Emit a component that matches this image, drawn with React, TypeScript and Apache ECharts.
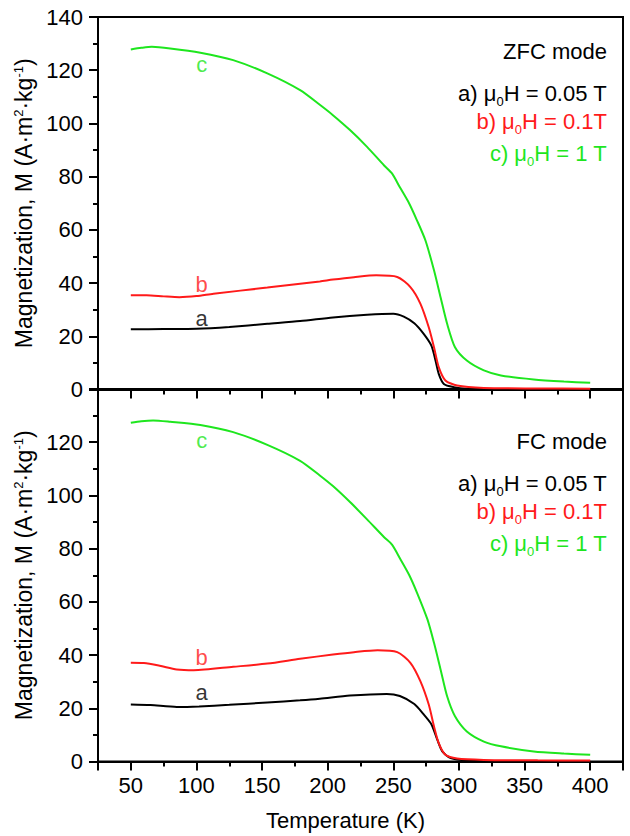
import React, { useEffect, useRef } from "react";
import * as echarts from "echarts";

// ---- Data (Temperature K, Magnetization A·m²·kg⁻¹) ----
const ZFC_A: number[][] = [
  [50, 22.6], [75, 22.7], [100, 22.8], [125, 23.5], [154, 24.7], [179, 25.7], [204, 27.1], [230, 28.1],
  [250, 28.5], [258, 27.4], [266, 24.9], [273, 21.0], [279, 16.5], [282, 11.2], [284.6, 5.9],
  [288.5, 2.1], [296, 0.9], [306, 0.3], [330, 0.15], [400, 0.1],
];
const ZFC_B: number[][] = [
  [50, 35.4], [62, 35.4], [75, 35.0], [87, 34.7], [100, 35.1], [113, 36.0], [154, 38.3], [194, 40.6],
  [204, 41.3], [220, 42.2], [237, 42.9], [253, 42.3], [263, 38.5], [270.6, 32.3], [277, 23.4],
  [281, 15.9], [284.6, 8.4], [289.7, 3.4], [298.6, 1.5], [319, 0.6], [360, 0.4], [400, 0.3],
];
const ZFC_C: number[][] = [
  [50, 127.8], [58, 128.4], [66, 128.8], [80, 128.2], [103, 126.6], [128, 123.8], [154, 118.8],
  [179, 112.5], [194, 107.0], [204, 103.1], [217, 97.5], [230, 91.2], [243, 84.2], [249, 81.2],
  [255, 76.0], [262, 70.0], [268, 63.6], [274.5, 56.0], [281, 44.8], [286, 34.7], [291, 24.7],
  [297, 15.9], [306, 10.9], [319, 7.2], [332, 5.3], [357, 3.8], [380, 3.0], [400, 2.5],
];
const FC_A: number[][] = [
  [50, 21.4], [65, 21.2], [85, 20.5], [102, 20.7], [125, 21.3], [154, 22.2], [179, 23.0], [194, 23.6],
  [217, 24.8], [245, 25.4], [255, 24.6], [266, 21.6], [273, 17.8], [279, 14.0], [283.5, 8.2],
  [287.3, 3.8], [293.7, 1.3], [306, 0.4], [330, 0.2], [400, 0.1],
];
const FC_B: number[][] = [
  [50, 37.1], [60, 37.0], [72, 36.0], [85, 34.6], [98, 34.3], [128, 35.6], [154, 36.8], [179, 38.6],
  [204, 40.2], [220, 41.1], [238, 41.8], [253, 41.1], [263, 37.1], [270.6, 30.2], [277, 21.4],
  [281, 13.2], [284.6, 6.9], [289.7, 2.5], [298.6, 1.1], [319, 0.6], [360, 0.45], [400, 0.4],
];
const FC_C: number[][] = [
  [50, 127.3], [58, 127.9], [67, 128.2], [80, 127.7], [103, 126.5], [128, 123.8], [154, 119.0],
  [179, 113.0], [194, 107.5], [204, 103.5], [217, 97.5], [230, 91.0], [243, 84.3], [249, 81.5],
  [255, 76.4], [262, 70.2], [268, 63.5], [276, 53.4], [281, 44.6], [286, 34.6], [291, 24.5],
  [297, 17.0], [306, 11.3], [319, 7.5], [332, 5.7], [357, 3.8], [380, 3.0], [400, 2.5],
];

// curve letter labels [T, M, text]
const ZFC_LETTERS: (number | string)[][] = [[104, 39.5, "b"], [104, 26.5, "a"], [104, 122, "c"]];
const FC_LETTERS: (number | string)[][] = [[104, 39, "b"], [104, 26, "a"], [104, 120.5, "c"]];

const X_MAJOR = [25, 50, 100, 150, 200, 250, 300, 350, 400, 425];
const X_LABELS = [50, 100, 150, 200, 250, 300, 350, 400];
const X_MINOR = [75, 125, 175, 225, 275, 325, 375];

const MODE_TITLES = ["ZFC mode", "FC mode"];
const FIELD_LABELS = ["a) μ{s|0}H = 0.05 T", "b) μ{s|0}H = 0.1T", "c) μ{s|0}H = 1 T"];

const Y_NAME = "Magnetization, M (A·m{sup|2}·kg{sup|-1})";
const X_NAME = "Temperature (K)";

const FONT = "Liberation Sans, Arial, Helvetica, sans-serif";
const BLACK = "#000000";
const RED = "#ff1a1a";
const GREEN = "#1ee61e";
const COLORS = [BLACK, RED, GREEN];
const LETTER_COLORS: Record<string, string> = { a: BLACK, b: RED, c: GREEN };

export default function App() {
  const ref = useRef<HTMLDivElement>(null);

  useEffect(() => {
    if (!ref.current) return;
    const chart = echarts.init(ref.current, null, { renderer: "svg" });

    const gridTops = [17, 389];
    const gridH = 372.5;

    const xAxisMain = (gi: number, showLabel: boolean) => ({
      type: "value",
      gridIndex: gi,
      min: 25,
      max: 425,
      interval: 25,
      axisLine: { show: true, onZero: false, lineStyle: { color: BLACK, width: 2 } },
      axisTick: {
        show: true,
        inside: false,
        length: 9,
        customValues: X_MAJOR,
        lineStyle: { color: BLACK, width: 2 },
      },
      axisLabel: {
        show: showLabel,
        customValues: X_LABELS,
        color: BLACK,
        fontSize: 22,
        fontFamily: FONT,
        margin: 13,
      },
      splitLine: { show: false },
      name: showLabel ? X_NAME : "",
      nameLocation: "middle",
      nameGap: 48,
      nameTextStyle: { color: BLACK, fontSize: 22, fontFamily: FONT, padding: [0, 30, 0, 0] },
    });
    const xAxisMinor = (gi: number) => ({
      type: "value",
      gridIndex: gi,
      min: 25,
      max: 425,
      interval: 25,
      position: "bottom",
      axisLine: { show: false },
      axisTick: {
        show: true,
        inside: false,
        length: 5,
        customValues: X_MINOR,
        lineStyle: { color: BLACK, width: 2 },
      },
      axisLabel: { show: false },
      splitLine: { show: false },
    });
    const yAxis = (gi: number, hideTop: boolean) => ({
      type: "value",
      gridIndex: gi,
      min: 0,
      max: 140,
      interval: 20,
      axisLine: { show: true, lineStyle: { color: BLACK, width: 2 } },
      axisTick: { show: true, inside: false, length: 9, lineStyle: { color: BLACK, width: 2 } },
      minorTick: { show: true, splitNumber: 2, length: 5, lineStyle: { color: BLACK, width: 2 } },
      axisLabel: {
        color: BLACK,
        fontSize: 22,
        fontFamily: FONT,
        margin: 15,
        formatter: (v: number) => (hideTop && v === 140 ? "" : String(v)),
      },
      splitLine: { show: false },
      minorSplitLine: { show: false },
      name: Y_NAME,
      nameLocation: "middle",
      nameGap: 55,
      nameTextStyle: {
        color: BLACK,
        fontSize: 23,
        fontFamily: FONT,
        rich: {
          sup: { fontSize: 13, fontFamily: FONT, color: BLACK, verticalAlign: "top", lineHeight: 23, padding: [0, 0, 8, 0] },
        },
      },
    });

    const lineSeries = (data: number[][], gi: number, color: string) => ({
      type: "line",
      xAxisIndex: gi * 2,
      yAxisIndex: gi,
      data,
      smooth: 0.25,
      showSymbol: false,
      symbol: "none",
      lineStyle: { color, width: 2 },
      z: 3,
    });
    const letterSeries = (letters: (number | string)[][], gi: number) => ({
      type: "scatter",
      xAxisIndex: gi * 2,
      yAxisIndex: gi,
      symbolSize: 0,
      silent: true,
      data: letters.map((l) => ({
        value: l,
        label: {
          show: true,
          position: "inside",
          formatter: String(l[2]),
          color: LETTER_COLORS[String(l[2])],
          fontSize: 22,
          fontFamily: FONT,
        },
      })),
      z: 4,
    });

    const textBlock = (top: number, gi: number) => {
      const els: any[] = [
        {
          type: "text",
          right: 23,
          top: top,
          style: { text: MODE_TITLES[gi], fill: BLACK, fontSize: 22, fontFamily: FONT, textAlign: "right" },
        },
      ];
      const offsets = [42, 70, 102];
      FIELD_LABELS.forEach((t, i) => {
        els.push({
          type: "text",
          right: 23,
          top: top + offsets[i],
          style: {
            text: t,
            fill: COLORS[i],
            fontSize: 22,
            fontFamily: FONT,
            rich: {
              s: { fontSize: 13, fill: COLORS[i], fontFamily: FONT, padding: [17, 0, 0, 0] },
            },
          },
        });
      });
      return els;
    };

    chart.setOption({
      animation: false,
      backgroundColor: "#ffffff",
      grid: [
        { left: 98, right: 7, top: gridTops[0], height: gridH, show: true, borderColor: BLACK, borderWidth: 2, backgroundColor: "transparent" },
        { left: 98, right: 7, top: gridTops[1], height: gridH, show: true, borderColor: BLACK, borderWidth: 2, backgroundColor: "transparent" },
      ],
      xAxis: [xAxisMain(0, false), xAxisMinor(0), xAxisMain(1, true), xAxisMinor(1)],
      yAxis: [yAxis(0, false), yAxis(1, true)],
      series: [
        lineSeries(ZFC_A, 0, BLACK),
        lineSeries(ZFC_B, 0, RED),
        lineSeries(ZFC_C, 0, GREEN),
        letterSeries(ZFC_LETTERS, 0),
        lineSeries(FC_A, 1, BLACK),
        lineSeries(FC_B, 1, RED),
        lineSeries(FC_C, 1, GREEN),
        letterSeries(FC_LETTERS, 1),
      ],
      graphic: [...textBlock(40, 0), ...textBlock(430, 1)],
    });

    return () => chart.dispose();
  }, []);

  return (
    <div
      ref={ref}
      style={{ position: "fixed", left: 0, top: 0, width: 630, height: 836, background: "#fff" }}
    />
  );
}
